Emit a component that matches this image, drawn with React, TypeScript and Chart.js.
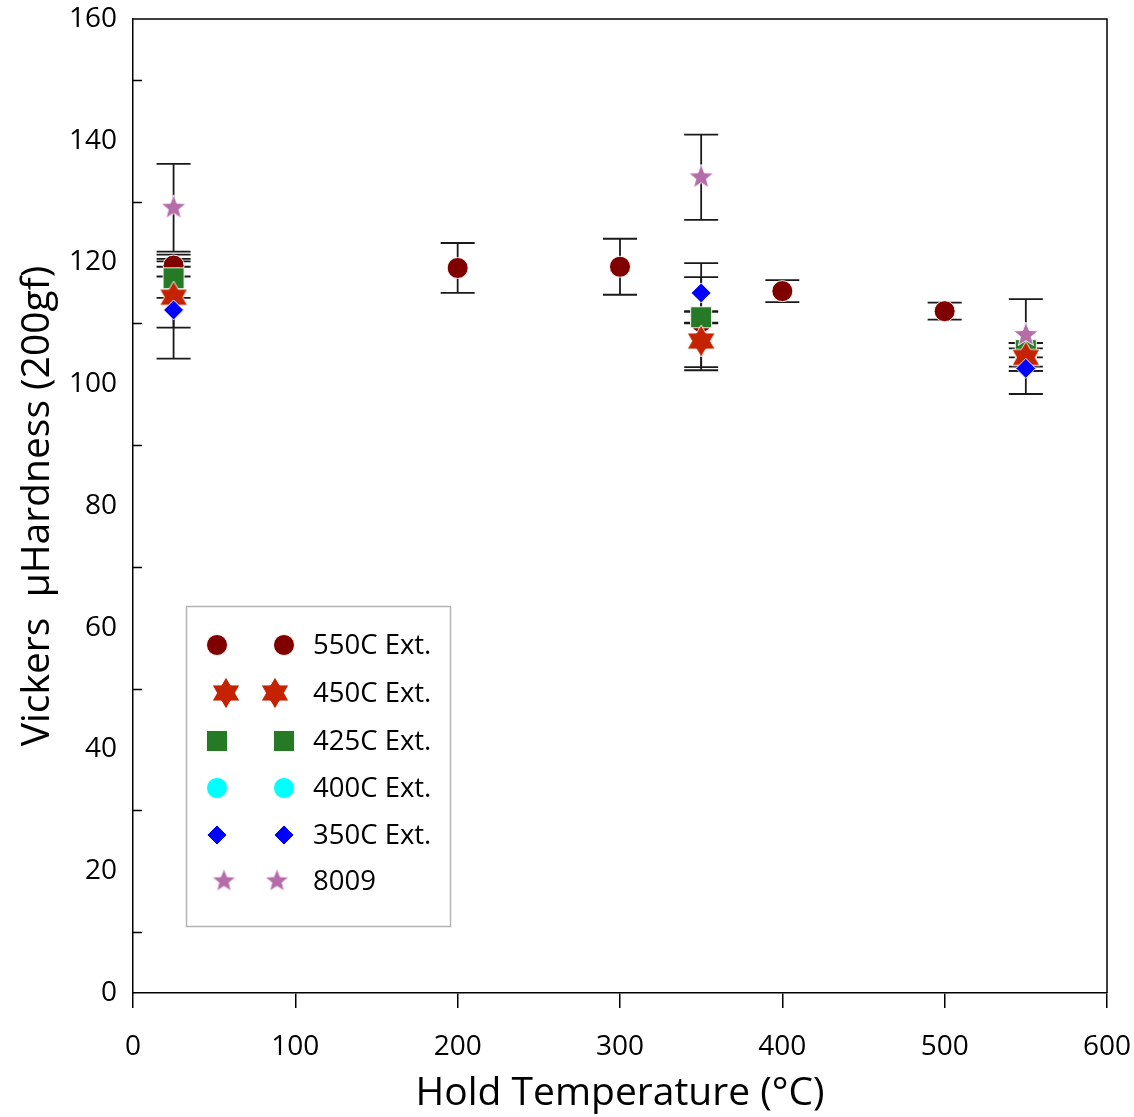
import React, { useEffect, useRef } from 'react';
import { Chart, registerables } from 'chart.js';

Chart.register(...registerables);

const FONT = '"Open Sans", "Noto Sans", sans-serif';

// ---- data ----
const seriesLabels = ['550C Ext.', '450C Ext.', '425C Ext.', '400C Ext.', '350C Ext.', '8009'];

const temps550 = [25, 200, 300, 350, 400, 500, 550];
const hard550 = [119.5, 119.1, 119.3, 110.2, 115.3, 112.0, 104.5];
const err550 = [1.8, 4.1, 4.6, 7.4, 1.8, 1.4, 2.3];

const temps450 = [25, 350, 550];
const hard450 = [114.3, 107.1, 104.4];
const err450 = [5.0, 4.8, 1.5];

const temps425 = [25, 350, 550];
const hard425 = [117.4, 111.0, 105.6];
const err425 = [3.2, 1.0, 1.2];

const temps400: number[] = [];
const hard400: number[] = [];
const err400: number[] = [];

const temps350 = [25, 350, 550];
const hard350 = [112.2, 115.0, 102.6];
const err350 = [8.0, 4.9, 4.2];

const temps8009 = [25, 350, 550];
const hard8009 = [129.0, 134.0, 108.1];
const err8009 = [7.2, 7.0, 5.9];

const xTickValues = [0, 100, 200, 300, 400, 500, 600];
const yTickValues = [0, 20, 40, 60, 80, 100, 120, 140, 160];
const yMinorTickValues = [10, 30, 50, 70, 90, 110, 130, 150];

const xTitle = 'Hold Temperature (°C)';
const yTitle = 'Vickers  μHardness (200gf)';

// ---- styles ----
const COLORS = ['#800000', '#C42200', '#267A26', '#00FFFF', '#0000FF', '#B56DAA'];

function makeStar(n: number, R: number, r: number, fill: string): HTMLCanvasElement {
  const size = Math.ceil(2 * R + 4);
  const c = document.createElement('canvas');
  c.width = size;
  c.height = size;
  const ctx = c.getContext('2d')!;
  const cx = size / 2;
  const cy = size / 2;
  ctx.beginPath();
  for (let i = 0; i < 2 * n; i++) {
    const a = -Math.PI / 2 + (i * Math.PI) / n;
    const rad = i % 2 === 0 ? R : r;
    const px = cx + rad * Math.cos(a);
    const py = cy + rad * Math.sin(a);
    if (i === 0) ctx.moveTo(px, py);
    else ctx.lineTo(px, py);
  }
  ctx.closePath();
  ctx.fillStyle = fill;
  ctx.fill();
  ctx.strokeStyle = 'rgba(255,255,255,0.9)';
  ctx.lineWidth = 1;
  ctx.stroke();
  return c;
}

function pts(xs: number[], ys: number[]) {
  return xs.map((x, i) => ({ x, y: ys[i] }));
}

export default function App() {
  const ref = useRef<HTMLCanvasElement | null>(null);

  useEffect(() => {
    if (!ref.current) return;
    const hexStar = makeStar(6, 16, 9.3, COLORS[1]);
    const pinkStar = makeStar(5, 13, 5.6, COLORS[5]);
    const hexStarL = makeStar(6, 16, 9.3, COLORS[1]);
    const pinkStarL = makeStar(5, 12.5, 5.4, COLORS[5]);

    const errorSets = [err550, err450, err425, err400, err350, err8009];

    const errorBarPlugin = {
      id: 'errorBars',
      beforeDatasetsDraw(chart: any) {
        const ctx = chart.ctx;
        const xs = chart.scales.x;
        const ys = chart.scales.y;
        ctx.save();
        ctx.strokeStyle = '#1a1a1a';
        ctx.lineWidth = 1.8;
        chart.data.datasets.forEach((ds: any, di: number) => {
          const errs = errorSets[di];
          ds.data.forEach((p: any, i: number) => {
            const e = errs[i];
            if (!e) return;
            const px = xs.getPixelForValue(p.x);
            const y1 = ys.getPixelForValue(p.y + e);
            const y2 = ys.getPixelForValue(p.y - e);
            ctx.beginPath();
            ctx.moveTo(px, y1);
            ctx.lineTo(px, y2);
            ctx.moveTo(px - 17, y1);
            ctx.lineTo(px + 17, y1);
            ctx.moveTo(px - 17, y2);
            ctx.lineTo(px + 17, y2);
            ctx.stroke();
          });
        });
        ctx.restore();
      },
    };

    const framePlugin = {
      id: 'frame',
      afterDraw(chart: any) {
        const ctx = chart.ctx;
        const a = chart.chartArea;
        const ys = chart.scales.y;
        ctx.save();
        ctx.strokeStyle = '#000';
        ctx.lineWidth = 1.5;
        ctx.beginPath();
        ctx.moveTo(a.left, a.top);
        ctx.lineTo(a.right, a.top);
        ctx.lineTo(a.right, a.bottom);
        ctx.stroke();
        ctx.beginPath();
        yMinorTickValues.forEach((v) => {
          const py = Math.round(ys.getPixelForValue(v)) + 0.5;
          ctx.moveTo(a.left, py);
          ctx.lineTo(a.left + 9, py);
        });
        ctx.stroke();
        ctx.restore();
      },
    };

    const drawMarker = (ctx: CanvasRenderingContext2D, kind: number, x: number, y: number) => {
      ctx.save();
      ctx.strokeStyle = 'rgba(255,255,255,0.9)';
      ctx.lineWidth = 1;
      ctx.fillStyle = COLORS[kind];
      if (kind === 0 || kind === 3) {
        ctx.beginPath();
        ctx.arc(x, y, 10.5, 0, Math.PI * 2);
        ctx.fill();
        ctx.stroke();
      } else if (kind === 2) {
        ctx.beginPath();
        ctx.rect(x - 10.5, y - 10.5, 21, 21);
        ctx.fill();
        ctx.stroke();
      } else if (kind === 4) {
        ctx.beginPath();
        ctx.moveTo(x, y - 10);
        ctx.lineTo(x + 10, y);
        ctx.lineTo(x, y + 10);
        ctx.lineTo(x - 10, y);
        ctx.closePath();
        ctx.fill();
        ctx.stroke();
      } else {
        const img = kind === 1 ? hexStarL : pinkStarL;
        ctx.drawImage(img, x - img.width / 2, y - img.height / 2);
      }
      ctx.restore();
    };

    const legendPlugin = {
      id: 'customLegend',
      afterDraw(chart: any) {
        const ctx = chart.ctx;
        ctx.save();
        ctx.strokeStyle = '#b4b4b4';
        ctx.lineWidth = 1.5;
        ctx.strokeRect(186.5, 606.5, 264, 320);
        const rows = [645, 693, 741, 788, 835, 881];
        chart.data.datasets.forEach((ds: any, i: number) => {
          const y = rows[i];
          const isStar = i === 1 || i === 5;
          const x1 = isStar ? (i === 1 ? 226 : 224) : 217;
          const x2 = isStar ? (i === 1 ? 275 : 277) : 284;
          drawMarker(ctx, i, x1, y);
          drawMarker(ctx, i, x2, y);
          ctx.fillStyle = '#000';
          ctx.font = `27.5px ${FONT}`;
          ctx.textAlign = 'left';
          ctx.textBaseline = 'middle';
          ctx.fillText(ds.label, 313, y + 1);
        });
        ctx.restore();
      },
    };

    const chart = new Chart(ref.current, {
      type: 'scatter',
      data: {
        datasets: [
          {
            label: seriesLabels[0],
            data: pts(temps550, hard550),
            pointStyle: 'circle',
            pointRadius: 10.5,
            backgroundColor: COLORS[0],
            borderColor: 'rgba(255,255,255,0.9)',
            borderWidth: 1,
            order: 6,
          },
          {
            label: seriesLabels[1],
            data: pts(temps450, hard450),
            pointStyle: hexStar as any,
            pointRadius: 14,
            backgroundColor: COLORS[1],
            order: 4,
          },
          {
            label: seriesLabels[2],
            data: pts(temps425, hard425),
            pointStyle: 'rect',
            pointRadius: 14.85,
            backgroundColor: COLORS[2],
            borderColor: 'rgba(255,255,255,0.9)',
            borderWidth: 1,
            order: 5,
          },
          {
            label: seriesLabels[3],
            data: pts(temps400, hard400),
            pointStyle: 'circle',
            pointRadius: 10.5,
            backgroundColor: COLORS[3],
            borderColor: 'rgba(255,255,255,0.9)',
            borderWidth: 1,
            order: 3,
          },
          {
            label: seriesLabels[4],
            data: pts(temps350, hard350),
            pointStyle: 'rectRot',
            pointRadius: 10,
            backgroundColor: COLORS[4],
            borderColor: 'rgba(255,255,255,0.9)',
            borderWidth: 1,
            order: 2,
          },
          {
            label: seriesLabels[5],
            data: pts(temps8009, hard8009),
            pointStyle: pinkStar as any,
            pointRadius: 12,
            backgroundColor: COLORS[5],
            order: 1,
          },
        ],
      },
      options: {
        responsive: false,
        animation: false,
        events: [],
        layout: { padding: { top: 19, right: 27, left: 0, bottom: 0 } },
        plugins: {
          legend: { display: false },
          tooltip: { enabled: false },
          title: { display: false },
        },
        scales: {
          x: {
            type: 'linear',
            min: 0,
            max: 600,
            afterFit: (s: any) => {
              s.height = 124;
              s.paddingLeft = 0;
              s.paddingRight = 0;
            },
            afterBuildTicks: (s: any) => {
              s.ticks = xTickValues.map((v) => ({ value: v }));
            },
            ticks: {
              font: { family: FONT, size: 28 },
              color: '#000',
              padding: 22,
              maxRotation: 0,
            },
            grid: {
              display: true,
              drawOnChartArea: false,
              drawTicks: true,
              tickLength: 15,
              color: '#000',
              lineWidth: 1.5,
            },
            border: { display: true, color: '#000', width: 1.5 },
            title: {
              display: true,
              text: xTitle,
              font: { family: FONT, size: 39 },
              color: '#000',
              padding: { top: 0, bottom: 0 },
            },
          },
          y: {
            type: 'linear',
            min: 0,
            max: 160,
            afterFit: (s: any) => {
              s.width = 133;
              s.paddingTop = 0;
              s.paddingBottom = 0;
            },
            afterBuildTicks: (s: any) => {
              s.ticks = yTickValues.map((v) => ({ value: v }));
            },
            ticks: {
              font: { family: FONT, size: 28 },
              color: '#000',
              padding: 16,
            },
            grid: { display: false, drawTicks: false },
            border: { display: true, color: '#000', width: 1.5 },
            title: {
              display: true,
              text: yTitle,
              font: { family: FONT, size: 39 },
              color: '#000',
              padding: { top: 14, bottom: 0 },
            },
          },
        },
      } as any,
      plugins: [errorBarPlugin, framePlugin, legendPlugin],
    });

    return () => chart.destroy();
  }, []);

  return (
    <div style={{ position: 'absolute', left: 0, top: 0, width: 1134, height: 1117, background: '#fff' }}>
      <canvas ref={ref} width={1134} height={1117} />
    </div>
  );
}
